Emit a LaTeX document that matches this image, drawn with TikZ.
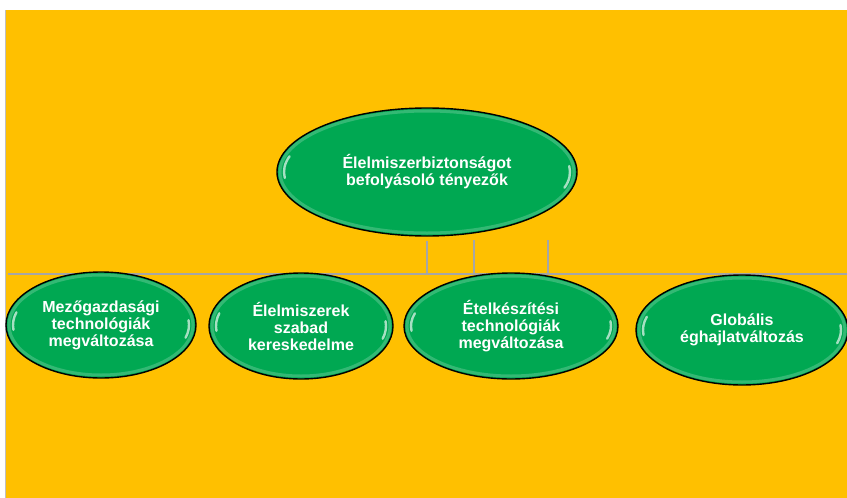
\documentclass[tikz,border=0pt]{standalone}
\usepackage{fontspec}
\setmainfont{Liberation Sans}
\usetikzlibrary{shapes.geometric,backgrounds}
\definecolor{panel}{HTML}{FFC000}
\definecolor{leaf}{RGB}{0,168,82}
\definecolor{wire}{HTML}{A6A6A6}
\newcommand{\shine}[4]{%
\pgfmathsetmacro\shinex{#3-7}\pgfmathsetmacro\shiney{#4-7}%
\draw[white,opacity=0.2,line width=3pt] (#1,#2) ellipse ({#3-3} and {#4-3});
\draw[white,opacity=0.65,line width=2.4pt,line cap=round] (#1,#2) ++(164:{\shinex} and {\shiney}) arc[start angle=164,end angle=186,x radius=\shinex,y radius=\shiney];
\draw[white,opacity=0.65,line width=2.4pt,line cap=round] (#1,#2) ++(-16:{\shinex} and {\shiney}) arc[start angle=-16,end angle=6,x radius=\shinex,y radius=\shiney];
}
\begin{document}
\begin{tikzpicture}[x=1pt,y=1pt]
\tikzstyle{every node}+=[inner sep=0pt]
\tikzstyle{bubble}=[ellipse,draw=black,line width=1.4pt,fill=leaf,text=white,align=center,font=\bfseries\fontsize{16}{17}\selectfont]
\tikzstyle{wireline}=[draw=wire,line width=2pt]
\useasboundingbox (0,0) rectangle (847,-498);
% main factor
\node[bubble,minimum width=300pt,minimum height=128pt] (top) at (427,-172) {Élelmiszerbiztonságot\\befolyásoló tényezők};
\shine{427}{-172}{150}{64}
% four factors
\node[bubble,minimum width=190pt,minimum height=106pt] (agri) at (101,-325) {Mezőgazdasági\\technológiák\\megváltozása};
\shine{101}{-325}{95}{53}
\node[bubble,minimum width=184pt,minimum height=106pt] (trade) at (301,-326) {Élelmiszerek\\szabad\\kereskedelme};
\shine{301}{-326}{92}{53}
\node[bubble,minimum width=214pt,minimum height=106pt] (cook) at (511,-326) {Ételkészítési\\technológiák\\megváltozása};
\shine{511}{-326}{107}{53}
\node[bubble,minimum width=212pt,minimum height=110pt] (clim) at (742,-330) {Globális\\éghajlatváltozás};
\shine{742}{-330}{106}{55}
\begin{scope}[on background layer]
\fill[white] (0,0) rectangle (847,-498);
\fill[panel] (5,-10) rectangle (847,-498);
\draw[gray!50,line width=0.4pt] (5,-498) -- (5,-10);
\coordinate (bus w) at (8,-274);
\coordinate (bus e) at (847,-274);
\coordinate (stub a) at (474,-240);
\coordinate (stub b) at (548,-240);
\draw[wireline] (bus w) -- (bus e);
\draw[wireline] ([yshift=-4pt]top.south) -- (top.south |- bus w);
\draw[wireline] (stub a) -- (stub a |- bus w);
\draw[wireline] (stub b) -- (stub b |- bus w);
\end{scope}
\end{tikzpicture}
\end{document}
